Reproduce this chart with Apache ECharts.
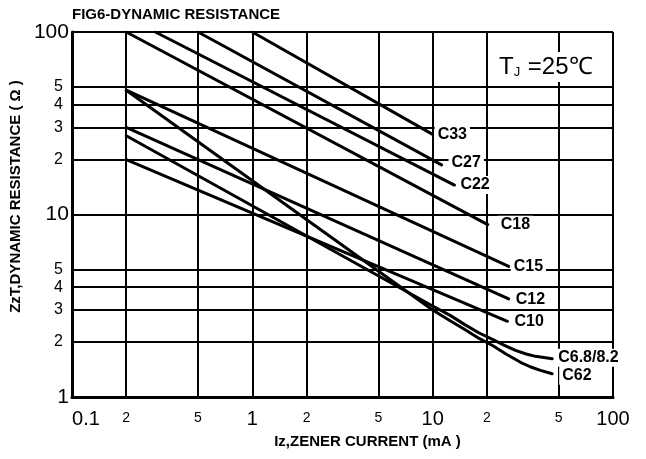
<!DOCTYPE html>
<html><head><meta charset="utf-8">
<script src="https://cdn.jsdelivr.net/npm/echarts@6/dist/echarts.min.js"></script>
<style>html,body{margin:0;padding:0;background:#fff}#c{width:646px;height:459px}</style>
</head><body><div id="c"></div>
<script>
// ---- data ----
const xTicks = [0.1, 0.2, 0.5, 1, 2, 5, 10, 20, 50, 100];
const xTickLabels = ['0.1', '2', '5', '1', '2', '5', '10', '2', '5', '100'];
const yTicks = [1, 2, 3, 4, 5, 10, 20, 30, 40, 50, 100];
const yTickLabels = ['1', '2', '3', '4', '5', '10', '2', '3', '4', '5', '100'];
const seriesNames = ['C33', 'C27', 'C22', 'C18', 'C15', 'C12', 'C10', 'C6.8/8.2', 'C62'];
const c33 = [[1, 100], [10, 27.5]];
const c27 = [[0.5, 100], [11.2, 18.7]];
const c22 = [[0.29, 100], [13.2, 14.5]];
const c18 = [[0.2, 100], [20.2, 8.8]];
const c15 = [[0.2, 48], [26.4, 5.2]];
const c12 = [[0.2, 30], [26.4, 3.45]];
const c10 = [[0.2, 20], [26, 2.6]];
const c68 = [[0.2, 27], [10, 3.15], [12.5, 2.8], [15, 2.5], [18, 2.25], [21.6, 2.06], [25, 1.92], [28.8, 1.8], [33, 1.72], [37.2, 1.67], [46, 1.62]];
const c62 = [[0.2, 48], [10, 3.0], [12.5, 2.62], [15, 2.35], [18, 2.1], [21.6, 1.91], [25.5, 1.72], [30.7, 1.55], [35, 1.46], [39.6, 1.4], [46, 1.34]];
const seriesData = [c33, c27, c22, c18, c15, c12, c10, c68, c62];

// ---- styling (not data) ----
const labelOffsets = [[0, 0], [5, -2], [1, 0], [8, 0], [0, 0], [2, 1], [2, 0], [1, -1], [5, 2]];
const FONT = 'Liberation Sans, Arial, sans-serif';

function nearestIdx(arr, v) {
  let best = 0, bd = Infinity;
  arr.forEach((a, i) => { const d = Math.abs(Math.log(a) - Math.log(v)); if (d < bd) { bd = d; best = i; } });
  return best;
}

const chart = echarts.init(document.getElementById('c'), null, { renderer: 'canvas' });
const gridLine = { show: true, lineStyle: { color: '#000', width: 2 } };

const option = {
  animation: false,
  backgroundColor: '#fff',
  title: {
    text: 'FIG6-DYNAMIC RESISTANCE', left: 72, top: 7, padding: 0,
    textStyle: { fontFamily: FONT, fontSize: 15, fontWeight: 'bold', color: '#000' }
  },
  grid: { left: 68, right: 33, top: 32, bottom: 62, containLabel: false },
  xAxis: {
    type: 'log', logBase: 10, min: 0.1, max: 100,
    name: 'Iz,ZENER CURRENT (mA )', nameLocation: 'middle', nameGap: 36,
    nameTextStyle: { fontFamily: FONT, fontSize: 15, fontWeight: 'bold', color: '#000', padding: [0, 0, 0, 50] },
    axisLine: { show: true, lineStyle: { color: '#000', width: 3 } },
    axisTick: { show: false, customValues: xTicks },
    splitLine: gridLine,
    minorTick: { show: false }, minorSplitLine: { show: false },
    axisLabel: {
      customValues: xTicks, margin: 10, color: '#000', fontFamily: FONT,
      formatter: function (v) {
        const i = nearestIdx(xTicks, v);
        const t = xTickLabels[i];
        if (i === 0) return '{f|' + t + '}';
        return (i % 3 === 0) ? '{b|' + t + '}' : '{s|' + t + '}';
      },
      rich: {
        f: { fontSize: 20, lineHeight: 24, fontFamily: FONT, color: '#000', padding: [0, 0, 0, 28] },
        b: { fontSize: 20, lineHeight: 24, fontFamily: FONT, color: '#000' },
        s: { fontSize: 14, lineHeight: 22, fontFamily: FONT, color: '#000' }
      }
    }
  },
  yAxis: {
    type: 'log', logBase: 10, min: 1, max: 100,
    name: 'ZzT,DYNAMIC RESISTANCE ( Ω )', nameLocation: 'middle', nameRotate: 90, nameGap: 43,
    nameTextStyle: { fontFamily: FONT, fontSize: 15, fontWeight: 'bold', color: '#000', padding: [0, 0, 0, 36] },
    axisLine: { show: true, lineStyle: { color: '#000', width: 3 } },
    axisTick: { show: false, customValues: yTicks },
    splitLine: gridLine,
    minorTick: { show: false }, minorSplitLine: { show: false },
    axisLabel: {
      customValues: yTicks, margin: 3, color: '#000', fontFamily: FONT,
      formatter: function (v) {
        const i = nearestIdx(yTicks, v);
        const t = yTickLabels[i];
        return (i % 5 === 0) ? '{b|' + t + '}' : '{s|' + t + '}';
      },
      rich: {
        b: { fontSize: 21, fontFamily: FONT, color: '#000' },
        s: { fontSize: 16, fontFamily: FONT, color: '#000', padding: [0, 6, 0, 0] }
      }
    }
  },
  graphic: [{
    type: 'text', left: 496, top: 52, z: 100,
    style: {
      text: '{t|T}{j|J}{r| =25℃}',
      fill: '#000', fontFamily: FONT,
      backgroundColor: '#fff', padding: [3, 5, 3, 3],
      rich: {
        t: { fontSize: 24, fontFamily: FONT, color: '#000' },
        j: { fontSize: 13, fontFamily: FONT, color: '#000', padding: [10, 1, 0, 0] },
        r: { fontSize: 24, fontFamily: FONT, color: '#000' }
      }
    }
  }],
  series: seriesNames.map((n, k) => ({
    name: n, type: 'line', data: seriesData[k], showSymbol: false, symbol: 'none',
    smooth: false,
    lineStyle: { color: '#000', width: 3, join: 'round', cap: 'round' },
    z: 5,
    endLabel: {
      show: true, formatter: '{a}', distance: 2, offset: labelOffsets[k],
      backgroundColor: '#fff', padding: [1, 3], color: '#000',
      fontFamily: FONT, fontSize: 16, fontWeight: 'bold'
    }
  }))
};
chart.setOption(option);
</script></body></html>
